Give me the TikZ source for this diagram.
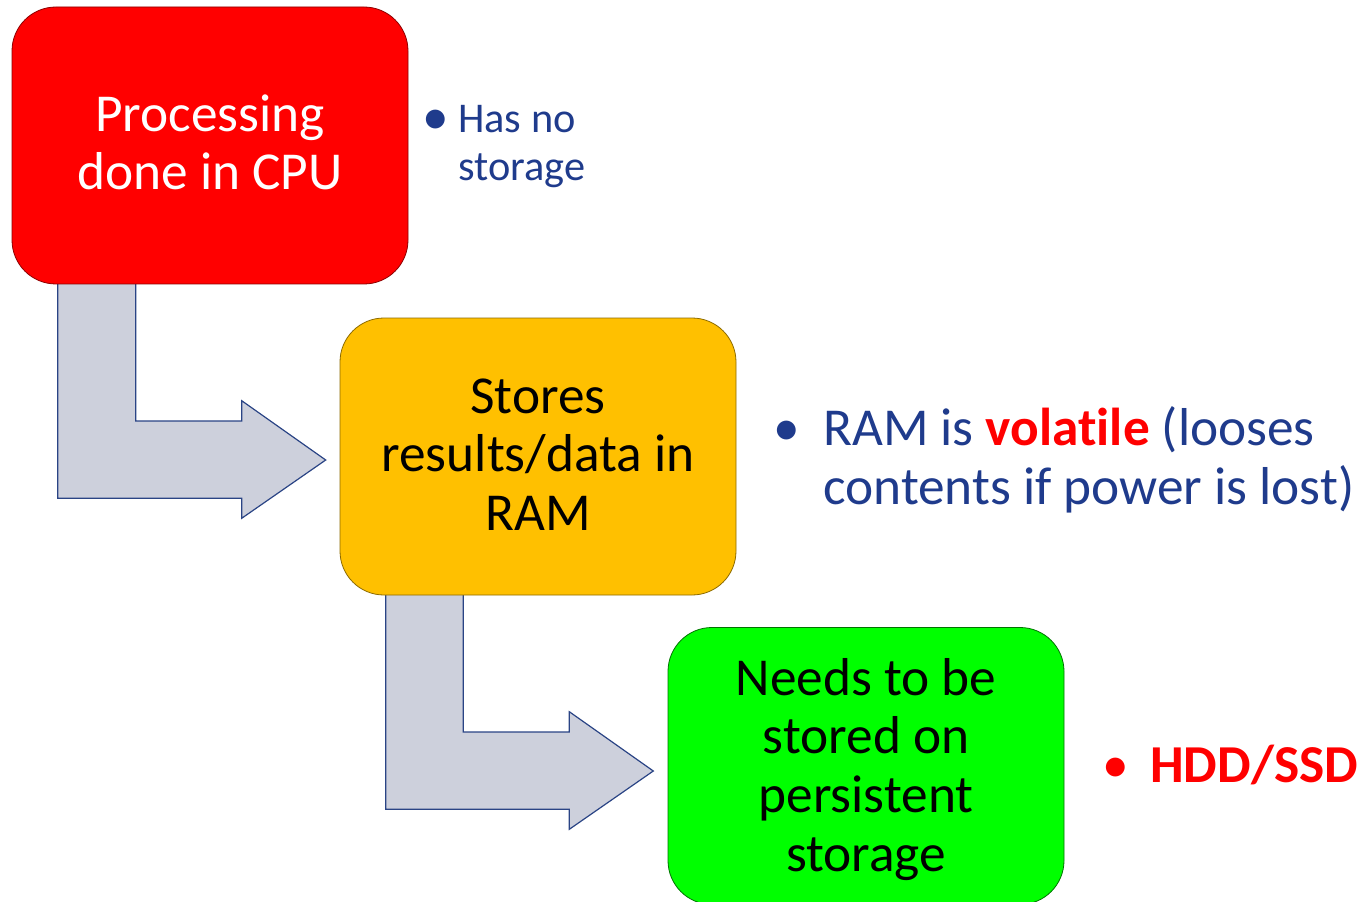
\documentclass[tikz,border=0pt]{standalone}
\usepackage{fontspec}
\setmainfont{Carlito}[Ligatures=NoCommon]
\usetikzlibrary{calc}
\definecolor{boxred}{HTML}{FF0000}
\definecolor{boxyellow}{HTML}{FFC000}
\definecolor{boxgreen}{HTML}{00FF00}
\definecolor{arrowfill}{HTML}{CDD0DC}
\definecolor{arrowline}{HTML}{2A4485}
\definecolor{txtblue}{HTML}{1F3B8C}
\tikzset{
  stepbox/.style={draw, line width=0.6pt, rounded corners=33pt, inner sep=0pt,
    minimum width=297pt, minimum height=207.75pt},
  boxtxt/.style={inner sep=0pt, align=center, font=\fontsize{40}{44}\selectfont},
  bentarrow/.style={fill=arrowfill, draw=arrowline, line width=0.9pt, line join=miter},
  bigtxt/.style={inner sep=0pt, anchor=base west, text=txtblue, font=\fontsize{40}{44}\selectfont},
  smalltxt/.style={inner sep=0pt, anchor=base west, text=txtblue, font=\fontsize{31.75}{36}\selectfont},
}
\begin{document}
\begin{tikzpicture}[x=0.75pt,y=-0.75pt]
\useasboundingbox (0,0) rectangle (1363,902);
% bent arrows
\draw[bentarrow] (57.7,283) -- (135.7,283) -- (135.7,421) -- (241.7,421) -- (241.7,400.7)
  -- (325.7,460) -- (241.7,518.3) -- (241.7,498.3) -- (57.7,498.3) -- cycle;
\draw[bentarrow] (385.7,594) -- (463.3,594) -- (463.3,732) -- (569.3,732) -- (569.3,711.7)
  -- (653.3,771) -- (569.3,829.3) -- (569.3,809.3) -- (385.7,809.3) -- cycle;
% boxes
\node[stepbox, fill=boxred, draw=boxred!55!black] (cpu) at (210,145.5) {};
\node[stepbox, fill=boxyellow, draw=boxyellow!55!black] (ram) at (538,456.5) {};
\node[stepbox, fill=boxgreen, draw=boxgreen!45!black] (disk) at (866,766) {};
% box texts
\node[boxtxt, text=white] (cputxt) at ($(cpu.center)+(0,-3)$) {Processing\\done in CPU};
\node[boxtxt, text=black] (ramtxt) at ($(ram.center)+(0,-2)$) {Stores\\results/data in\\RAM};
\node[boxtxt, text=black, anchor=base] (disktxt) at ($(disk.center)+(0,105)$)
  {Needs to be\\stored on\\persistent\\storage};
% side notes
\node[smalltxt, font=\fontsize{40}{44}\selectfont] (b1) at (422,135) {•};
\node[smalltxt] (n1a) at (458,133) {Has no};
\node[smalltxt] (n1b) at (458,181) {storage};
\node[bigtxt] (b2) at (773,445) {•};
\node[bigtxt] (n2a) at (823,445) {RAM is \textcolor{boxred}{\textbf{volatile}} (looses};
\node[bigtxt] (n2b) at (823,504) {contents if power is lost)};
\node[bigtxt, text=boxred] (b3) at (1102,782) {•};
\node[bigtxt, text=boxred, font=\fontsize{40}{44}\selectfont\bfseries] (n3) at (1150,782) {HDD/SSD};
\end{tikzpicture}
\end{document}
